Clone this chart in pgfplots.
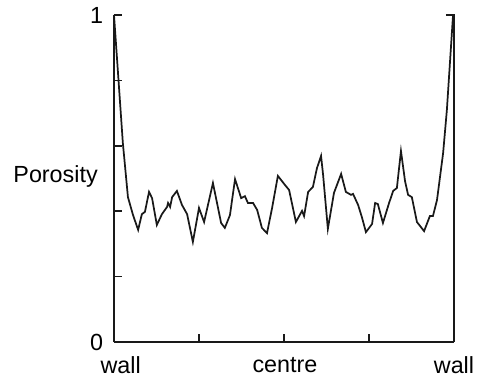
\documentclass[border=0pt]{standalone}
\usepackage{pgfplots}
\pgfplotsset{compat=1.18}
\usepackage{fontspec}
\setmainfont{Liberation Sans}
\begin{document}
\begin{tikzpicture}
\useasboundingbox (-85.5pt,-27pt) rectangle (272.25pt,256.5pt);
\begin{axis}[
  at={(0,0)}, anchor=south west,
  scale only axis, width=255pt, height=245.25pt,
  xmin=0, xmax=1, ymin=0, ymax=1,
  axis x line=bottom, axis y line=left,
  axis line style={-, line width=1.3pt, black!90},
  every tick/.style={line width=1.2pt, black!90},
  major tick length=6pt,
  tick align=inside,
  xtick={0,0.25,0.5,0.75,1},
  xticklabels={\hspace*{10pt}wall,,\hspace*{1.5pt}centre,,wall},
  ytick={0,0.2,0.4,0.6,0.8,1},
  yticklabels={0,,,,,1},
  /pgf/number format/assume math mode=true,
  ticklabel style={font=\fontsize{17.5}{20}\selectfont, inner sep=0pt},
  xticklabel style={anchor=north, yshift=-11pt},
  yticklabel style={anchor=east, xshift=-8pt},
  clip=false,
]
\addplot[black!90, line width=1.3pt] coordinates {
(0,1.0) (0.026,0.609) (0.041,0.443) (0.056,0.388) (0.071,0.343) (0.082,0.391)
(0.091,0.398) (0.103,0.459) (0.112,0.440) (0.126,0.358) (0.141,0.391) (0.156,0.413)
(0.159,0.425) (0.165,0.413) (0.171,0.443) (0.185,0.462) (0.200,0.419) (0.215,0.391)
(0.232,0.306) (0.250,0.410) (0.265,0.367) (0.291,0.486) (0.306,0.410) (0.315,0.364)
(0.326,0.349) (0.341,0.388) (0.356,0.498) (0.374,0.440) (0.385,0.446) (0.394,0.425)
(0.409,0.425) (0.421,0.404) (0.435,0.349) (0.450,0.333) (0.465,0.410) (0.482,0.508)
(0.503,0.480) (0.515,0.465) (0.535,0.367) (0.553,0.401) (0.559,0.385) (0.571,0.459)
(0.585,0.474) (0.597,0.532) (0.609,0.569) (0.615,0.511) (0.629,0.346) (0.647,0.456)
(0.668,0.514) (0.682,0.459) (0.697,0.450) (0.703,0.453) (0.718,0.419) (0.729,0.382)
(0.741,0.336) (0.759,0.361) (0.768,0.425) (0.776,0.422) (0.791,0.364) (0.809,0.425)
(0.821,0.462) (0.832,0.471) (0.844,0.584) (0.856,0.492) (0.865,0.450) (0.876,0.443)
(0.891,0.367) (0.912,0.339) (0.929,0.385) (0.938,0.385) (0.950,0.434) (0.968,0.578)
(0.979,0.709) (0.997,0.997) (1.0,1.0)
};
\addplot[black!90, line width=1.3pt] coordinates {(0.976,1) (1,1) (1,0)};
\node[anchor=east, inner sep=0pt, font=\fontsize{17.5}{20}\selectfont] at (rel axis cs:0,0.505) [xshift=-12pt] {Porosity};
\end{axis}
\end{tikzpicture}
\end{document}
